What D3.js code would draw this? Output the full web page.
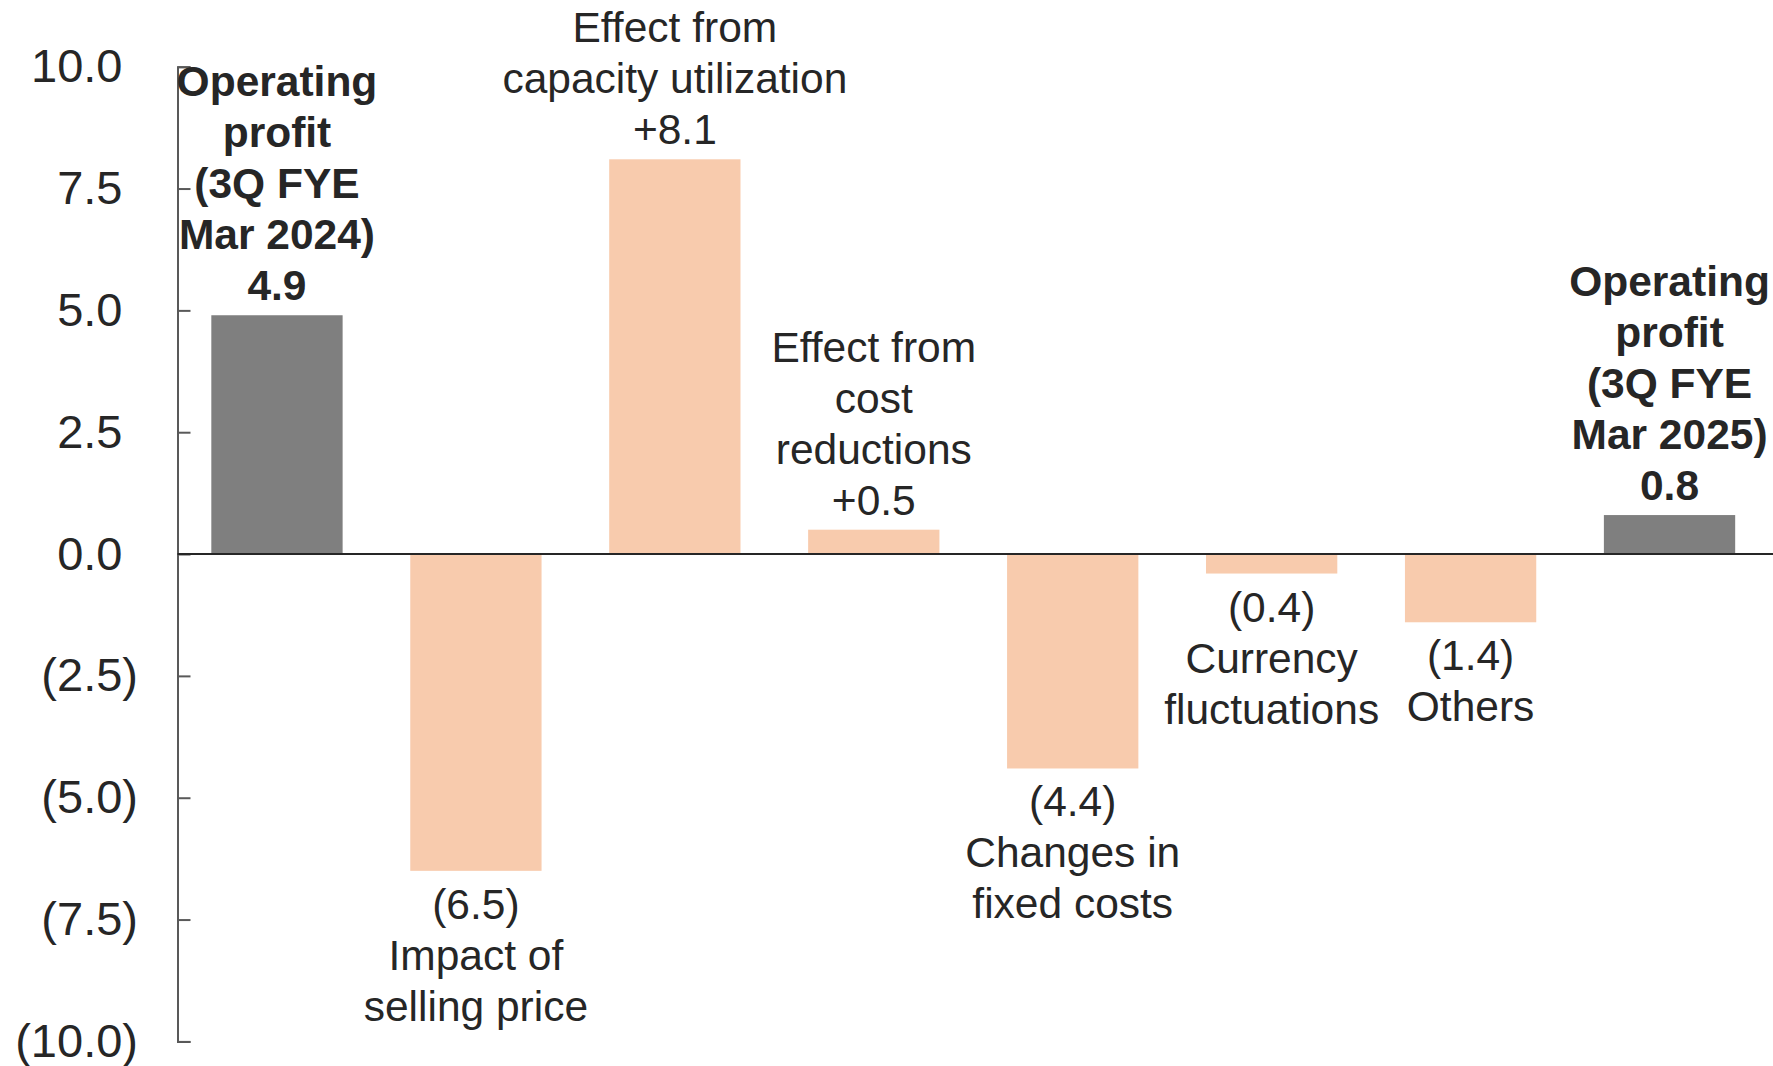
<!DOCTYPE html>
<html>
<head>
<meta charset="utf-8">
<script src="https://cdn.jsdelivr.net/npm/d3@7"></script>
<style>
  html, body { margin: 0; padding: 0; background: #ffffff; }
  svg { display: block; }
  text { font-family: "Liberation Sans", Arial, sans-serif; fill: #262626; }
</style>
</head>
<body>
<svg id="chart" width="1773" height="1066"></svg>
<script>
// ---- data ----
const categories = [
  "Operating profit (3Q FYE Mar 2024)",
  "Impact of selling price",
  "Effect from capacity utilization",
  "Effect from cost reductions",
  "Changes in fixed costs",
  "Currency fluctuations",
  "Others",
  "Operating profit (3Q FYE Mar 2025)"
];
const labelLines = [
  ["Operating", "profit", "(3Q FYE", "Mar 2024)"],
  ["Impact of", "selling price"],
  ["Effect from", "capacity utilization"],
  ["Effect from", "cost", "reductions"],
  ["Changes in", "fixed costs"],
  ["Currency", "fluctuations"],
  ["Others"],
  ["Operating", "profit", "(3Q FYE", "Mar 2025)"]
];
const values = [4.9, -6.5, 8.1, 0.5, -4.4, -0.4, -1.4, 0.8];
const valueLabels = ["4.9", "(6.5)", "+8.1", "+0.5", "(4.4)", "(0.4)", "(1.4)", "0.8"];
const isTotal = [true, false, false, false, false, false, false, true];
const tickValues = [10, 7.5, 5, 2.5, 0, -2.5, -5, -7.5, -10];
const tickLabels = ["10.0", "7.5", "5.0", "2.5", "0.0", "(2.5)", "(5.0)", "(7.5)", "(10.0)"];

// ---- layout ----
const svg = d3.select("#chart");
const axisX = 177.5;
const rightX = 1773;
const y = d3.scaleLinear().domain([-10, 10]).range([1041.4, 66.7]);
const x = d3.scaleBand().domain(categories).range([axisX, 1769])
  .paddingInner(0.34).paddingOuter(0.17);

const colorTotal = "#7f7f7f";
const colorChange = "#f8cbad";
const fontSize = 42.5;
const lineH = 51;

// bars
svg.append("g").selectAll("rect").data(values).join("rect")
  .attr("x", (d, i) => x(categories[i]))
  .attr("width", x.bandwidth())
  .attr("y", d => y(Math.max(0, d)))
  .attr("height", d => Math.abs(y(d) - y(0)))
  .attr("fill", (d, i) => isTotal[i] ? colorTotal : colorChange);

// y axis
const axis = d3.axisLeft(y).tickValues(tickValues)
  .tickFormat((d, i) => tickLabels[i])
  .tickSizeInner(-13).tickSizeOuter(-13).tickPadding(55);
const gAxis = svg.append("g").attr("transform", `translate(${axisX},0)`).call(axis);
gAxis.select(".domain").attr("stroke", "#595959").attr("stroke-width", 2);
gAxis.selectAll(".tick line").attr("stroke", "#595959").attr("stroke-width", 2);
gAxis.selectAll(".tick text")
  .attr("font-size", 47)
  .attr("font-family", "Liberation Sans, Arial, sans-serif")
  .attr("fill", "#262626")
  .attr("dx", d => d < 0 ? 15.5 : 0);

// zero line
svg.append("line")
  .attr("x1", axisX).attr("x2", rightX)
  .attr("y1", y(0)).attr("y2", y(0))
  .attr("stroke", "#262626").attr("stroke-width", 2);

// labels
const labels = svg.append("g");
values.forEach((v, i) => {
  const cx = x(categories[i]) + x.bandwidth() / 2;
  let lines, startY;
  if (v >= 0) {
    lines = labelLines[i].concat([valueLabels[i]]);
    const lastBase = y(v) - 15;
    startY = lastBase - (lines.length - 1) * lineH;
  } else {
    lines = [valueLabels[i]].concat(labelLines[i]);
    startY = y(v) + 48;
  }
  const t = labels.append("text")
    .attr("text-anchor", "middle")
    .attr("font-size", fontSize)
    .attr("font-weight", isTotal[i] ? "bold" : "normal");
  lines.forEach((ln, k) => {
    t.append("tspan").attr("x", cx).attr("y", startY + k * lineH).text(ln);
  });
});
</script>
</body>
</html>
